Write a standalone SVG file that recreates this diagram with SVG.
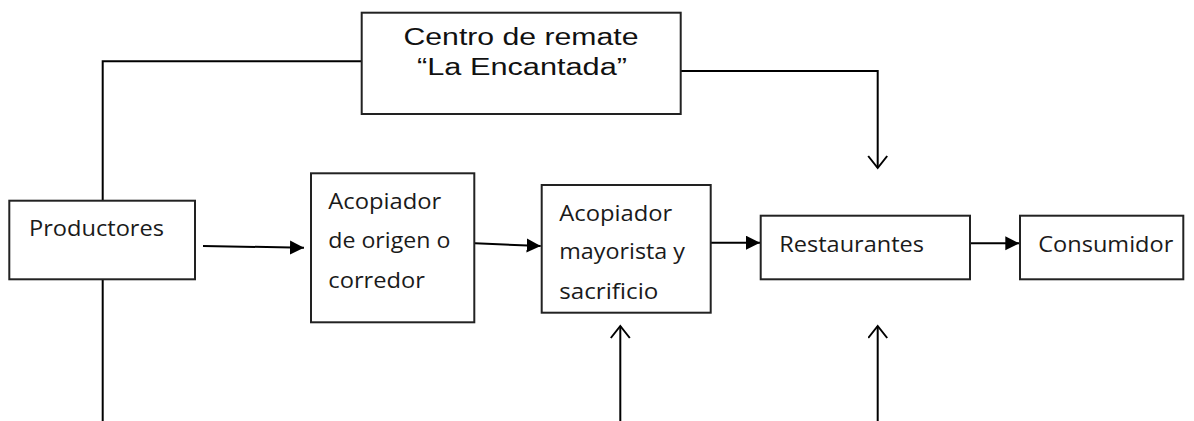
<svg xmlns="http://www.w3.org/2000/svg" width="1194" height="421" viewBox="0 0 1194 421">
  <defs>
    <marker id="solid" markerUnits="userSpaceOnUse" markerWidth="16" markerHeight="16" refX="14" refY="7" orient="auto">
      <path d="M0,0 L14,7 L0,14 Z" fill="#000"/>
    </marker>
    <marker id="open" markerUnits="userSpaceOnUse" markerWidth="16" markerHeight="24" refX="13" refY="10" orient="auto">
      <path d="M1,0.5 L13,10 L1,19.5" fill="none" stroke="#000" stroke-width="2"/>
    </marker>
  </defs>
  <style>
    .box { fill: #fff; stroke: #222; stroke-width: 2; }
    .arial { font-family: "Liberation Sans", Arial, sans-serif; font-size: 23px; fill: #111; }
    .cal { font-family: "Open Sans", "Noto Sans", sans-serif; font-size: 21px; fill: #1a1a1a; }
    .line { fill: none; stroke: #000; stroke-width: 2; }
  </style>
  <rect width="1194" height="421" fill="#fff"/>

  <g id="connectors">
    <path class="line" d="M362,61.3 H102.7 V200.7"/>
    <path class="line" d="M102.7,279.3 V421"/>
    <path class="line" d="M681,71 H877.7 V168" marker-end="url(#open)"/>
    <path class="line" d="M620.3,421 V326" marker-end="url(#open)"/>
    <path class="line" d="M877.7,421 V326" marker-end="url(#open)"/>
    <path class="line" d="M203,246 L304,247.7" marker-end="url(#solid)"/>
    <path class="line" d="M475,243.3 L540.7,246" marker-end="url(#solid)"/>
    <path class="line" d="M711,242.7 L760,242.7" marker-end="url(#solid)"/>
    <path class="line" d="M970,243.3 L1019.3,243.3" marker-end="url(#solid)"/>
  </g>

  <g id="centro">
    <rect class="box" x="361.7" y="12.7" width="319" height="101.3"/>
    <text class="arial" x="403.5" y="45" textLength="235" lengthAdjust="spacingAndGlyphs">Centro de remate</text>
    <text class="arial" x="417" y="75" textLength="210" lengthAdjust="spacingAndGlyphs">“La Encantada”</text>
  </g>

  <g id="productores">
    <rect class="box" x="9.3" y="200.7" width="185.7" height="78.6"/>
    <text class="cal" x="29" y="236" textLength="135" lengthAdjust="spacingAndGlyphs">Productores</text>
  </g>

  <g id="acopiador-origen">
    <rect class="box" x="311" y="173.3" width="163.3" height="149"/>
    <text class="cal" x="328.3" y="209.3" textLength="113" lengthAdjust="spacingAndGlyphs">Acopiador</text>
    <text class="cal" x="328.3" y="248" textLength="122" lengthAdjust="spacingAndGlyphs">de origen o</text>
    <text class="cal" x="328.3" y="288" textLength="96.7" lengthAdjust="spacingAndGlyphs">corredor</text>
  </g>

  <g id="acopiador-mayorista">
    <rect class="box" x="541.7" y="185" width="169" height="127.7"/>
    <text class="cal" x="559.3" y="220.7" textLength="113" lengthAdjust="spacingAndGlyphs">Acopiador</text>
    <text class="cal" x="559.3" y="259.3" textLength="125.7" lengthAdjust="spacingAndGlyphs">mayorista y</text>
    <text class="cal" x="559.3" y="299.3" textLength="99" lengthAdjust="spacingAndGlyphs">sacrificio</text>
  </g>

  <g id="restaurantes">
    <rect class="box" x="760.7" y="215.7" width="209.3" height="63.6"/>
    <text class="cal" x="779.3" y="251.7" textLength="144.7" lengthAdjust="spacingAndGlyphs">Restaurantes</text>
  </g>

  <g id="consumidor">
    <rect class="box" x="1020" y="215.7" width="163.3" height="63.6"/>
    <text class="cal" x="1038.3" y="251.7" textLength="135" lengthAdjust="spacingAndGlyphs">Consumidor</text>
  </g>
</svg>
